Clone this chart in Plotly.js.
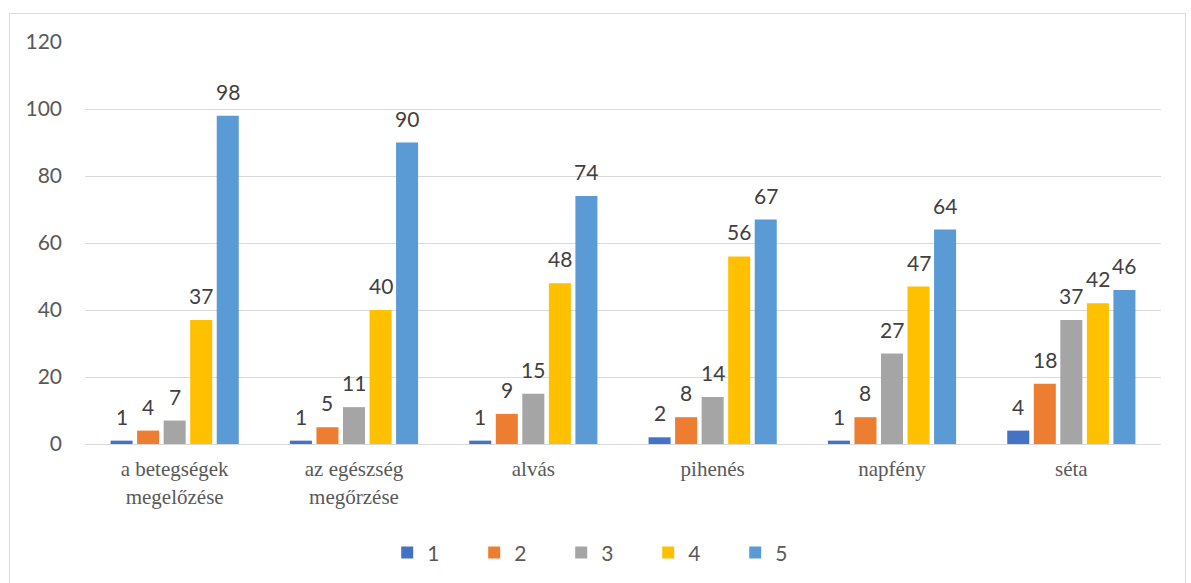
<!DOCTYPE html>
<html>
<head>
<meta charset="utf-8">
<script src="https://cdn.plot.ly/plotly-3.0.1.min.js"></script>
<style>
html,body{margin:0;padding:0;background:#fff;overflow:hidden;}
#chart{position:absolute;left:9px;top:13px;width:1175px;height:575px;border:1px solid #D9D9D9;}
</style>
</head>
<body>
<div id="chart"></div>
<script>
const categories = ["a betegségek<br>megelőzése", "az egészség<br>megőrzése", "alvás", "pihenés", "napfény", "séta"];
const seriesNames = ["1", "2", "3", "4", "5"];
const s1 = [1, 1, 1, 2, 1, 4];
const s2 = [4, 5, 9, 8, 8, 18];
const s3 = [7, 11, 15, 14, 27, 37];
const s4 = [37, 40, 48, 56, 47, 42];
const s5 = [98, 90, 74, 67, 64, 46];
const seriesValues = [s1, s2, s3, s4, s5];
const colors = ["#4472C4", "#ED7D31", "#A5A5A5", "#FFC000", "#5B9BD5"];
const yTicks = [0, 20, 40, 60, 80, 100, 120];

const sans = "Lato, Liberation Sans, Arial, sans-serif";
const serif = "Liberation Serif, Times New Roman, serif";

const W = 1175, H = 575;
const margin = {l: 75, r: 24, t: 28, b: 145};
const bargap = 0.26, bargroupgap = 0.17;

const traces = seriesValues.map((vals, i) => ({
  type: "bar",
  name: seriesNames[i],
  x: categories,
  y: vals,
  marker: {color: colors[i]},
  hoverinfo: "none"
}));

// data labels as annotations, shifted horizontally to sit over each bar of the group
const plotW = W - margin.l - margin.r;
const catW = plotW / categories.length;
const slotW = catW * (1 - bargap) / seriesValues.length;
const annotations = [];
seriesValues.forEach((vals, i) => {
  vals.forEach((v, j) => {
    annotations.push({
      x: categories[j], y: v, xref: "x", yref: "y",
      text: String(v), showarrow: false,
      xanchor: "center", yanchor: "bottom",
      xshift: (i - (seriesValues.length - 1) / 2) * slotW,
      yshift: 10,
      font: {family: sans, size: 21, color: "#404040"}
    });
  });
});

const layout = {
  width: W,
  height: H,
  margin: margin,
  paper_bgcolor: "#ffffff",
  plot_bgcolor: "#ffffff",
  barmode: "group",
  bargap: bargap,
  bargroupgap: bargroupgap,
  showlegend: true,
  annotations: annotations,
  legend: {
    orientation: "h",
    x: 0.483, xanchor: "center",
    y: -0.271, yanchor: "middle",
    font: {family: sans, size: 21, color: "#595959"},
    entrywidth: 42,
    itemclick: false
  },
  xaxis: {
    type: "category",
    showline: true,
    linecolor: "#D9D9D9",
    linewidth: 1,
    ticks: "",
    ticklabelstandoff: 6,
    tickfont: {family: serif, size: 21, color: "#595959"},
    fixedrange: true
  },
  yaxis: {
    range: [0, 120],
    tickvals: yTicks,
    showgrid: true,
    gridcolor: "#D9D9D9",
    gridwidth: 1,
    zeroline: false,
    showline: false,
    ticks: "",
    ticklabelstandoff: 22,
    tickfont: {family: sans, size: 21, color: "#595959"},
    fixedrange: true
  },
  hovermode: false
};

Plotly.newPlot("chart", traces, layout, {displayModeBar: false, staticPlot: true});
</script>
</body>
</html>
